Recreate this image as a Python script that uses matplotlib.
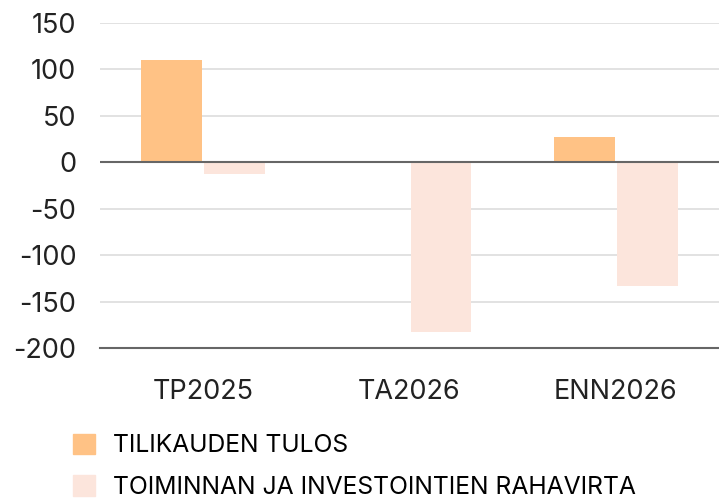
import matplotlib.pyplot as plt
from matplotlib.patches import Patch
import numpy as np

plt.rcParams['font.family'] = ['Inter', 'DejaVu Sans']

categories = ['TP2025', 'TA2026', 'ENN2026']
tulos = [110, 0, 27]
rahavirta = [-13, -183, -133]
series_names = ['TILIKAUDEN TULOS', 'TOIMINNAN JA INVESTOINTIEN RAHAVIRTA']
yticks = [150, 100, 50, 0, -50, -100, -150, -200]

orange = '#ffc285'
pink = '#fce5dc'

fig = plt.figure(figsize=(7.19, 4.99), dpi=100)
ax = fig.add_axes([0.139, 0.302, 0.861, 0.652])

x = np.arange(len(categories))
w = 0.295
ax.bar(x - w / 2 - 0.005, tulos, w, color=orange, zorder=3)
ax.bar(x + w / 2 + 0.005, rahavirta, w, color=pink, zorder=3)

ax.set_xlim(-0.5, 2.5)
ax.set_ylim(-200, 150)
ax.set_yticks(yticks)
ax.set_yticklabels([str(v) for v in yticks])
ax.set_xticks(x)
ax.set_xticklabels(categories)
ax.grid(axis='y', color='#dddddd', linewidth=1.2, zorder=0)
ax.axhline(0, color='#666666', linewidth=1.5, zorder=4)
ax.axhline(-200, color='#666666', linewidth=1.5, zorder=4, clip_on=False)
for s in ax.spines.values():
    s.set_visible(False)
ax.tick_params(axis='both', length=0, labelsize=19.5, labelcolor='#222222')
ax.tick_params(axis='y', pad=17)
ax.tick_params(axis='x', pad=22)

handles = [Patch(color=orange), Patch(color=pink)]
fig.legend(handles, series_names, loc='upper left', bbox_to_anchor=(0.088, 0.151),
           frameon=False, fontsize=17.8, handlelength=0.9, handleheight=0.9,
           handletextpad=0.7, labelspacing=0.72, borderaxespad=0)

fig.savefig('out.png', dpi=100)
